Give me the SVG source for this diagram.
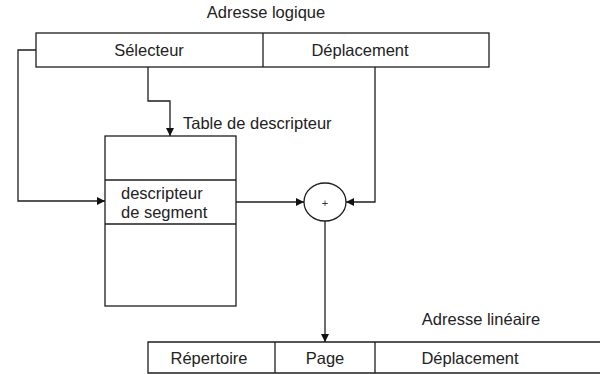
<svg xmlns="http://www.w3.org/2000/svg" width="600" height="374" viewBox="0 0 600 374">
  <defs>
    <marker id="arrow" viewBox="0 0 10 10" refX="10" refY="5" markerWidth="8" markerHeight="8" markerUnits="userSpaceOnUse" orient="auto">
      <path d="M0,0 L10,5 L0,10 Z" fill="#111"/>
    </marker>
    <style>
      .box { fill: #fff; stroke: #1e1e1e; stroke-width: 1.3; }
      .div { stroke: #1e1e1e; stroke-width: 1.3; }
      .wire { fill: none; stroke: #1e1e1e; stroke-width: 1.3; stroke-linejoin: miter; }
      .lbl { font-family: "Liberation Sans", Arial, sans-serif; font-size: 16.5px; fill: #222; }
      .mid { text-anchor: middle; }
    </style>
  </defs>

  <rect width="600" height="374" fill="#fff"/>

  <!-- logical address: selector + offset -->
  <g id="adresse-logique">
    <text class="lbl mid" x="266" y="18">Adresse logique</text>
    <rect class="box" x="36" y="33" width="453" height="34"/>
    <line class="div" x1="263" y1="33" x2="263" y2="67"/>
    <text class="lbl mid" x="149" y="56">Sélecteur</text>
    <text class="lbl mid" x="360" y="56">Déplacement</text>
  </g>

  <!-- descriptor table -->
  <g id="table-descripteur">
    <text class="lbl" x="183" y="129">Table de descripteur</text>
    <rect class="box" x="105" y="136" width="131" height="170"/>
    <line class="div" x1="105" y1="180" x2="236" y2="180"/>
    <line class="div" x1="105" y1="224" x2="236" y2="224"/>
    <text class="lbl" x="121" y="199">descripteur</text>
    <text class="lbl" x="121" y="218">de segment</text>
  </g>

  <!-- adder -->
  <g id="additionneur">
    <ellipse class="box" cx="325" cy="202" rx="21" ry="19"/>
    <text x="325" y="207" text-anchor="middle" font-family="Liberation Sans, Arial, sans-serif" font-size="11" fill="#333">+</text>
  </g>

  <!-- linear address: directory / page / offset -->
  <g id="adresse-lineaire">
    <text class="lbl mid" x="481" y="325">Adresse linéaire</text>
    <polyline class="wire" points="605,342 148,342 148,373 605,373"/>
    <line class="div" x1="275" y1="342" x2="275" y2="373"/>
    <line class="div" x1="375" y1="342" x2="375" y2="373"/>
    <text class="lbl mid" x="209" y="364">Répertoire</text>
    <text class="lbl mid" x="325" y="364">Page</text>
    <text class="lbl mid" x="470" y="364">Déplacement</text>
  </g>

  <!-- connectors -->
  <g id="connecteurs">
    <polyline class="wire" points="148,67 148,101 170,101 170,136" marker-end="url(#arrow)"/>
    <polyline class="wire" points="36,50 18,50 18,201 105,201" marker-end="url(#arrow)"/>
    <polyline class="wire" points="236,202 304,202" stroke="#555" marker-end="url(#arrow)"/>
    <polyline class="wire" points="375,67 375,202 346,202" marker-end="url(#arrow)"/>
    <polyline class="wire" points="325,221 325,342" marker-end="url(#arrow)"/>
  </g>
</svg>
